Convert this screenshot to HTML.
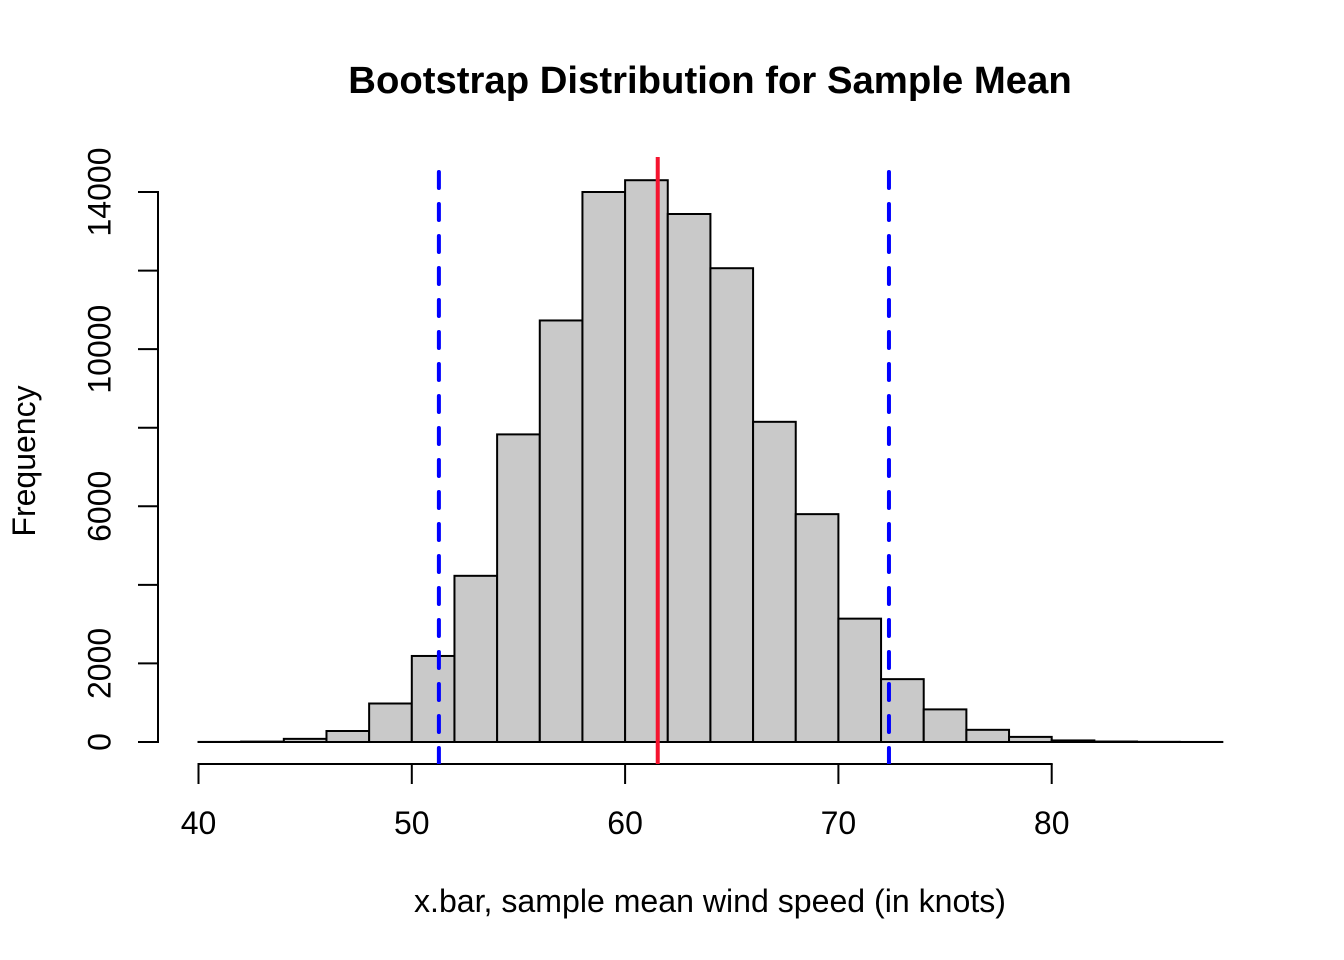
<!DOCTYPE html>
<html lang="en">
<head>
<meta charset="utf-8">
<title>Bootstrap Distribution for Sample Mean</title>
<style>
html,body{margin:0;padding:0;background:#fff;}
svg{display:block;}
text{font-family:"Liberation Sans",Arial,sans-serif;fill:#000;}
</style>
</head>
<body>
<svg id="chart" xmlns="http://www.w3.org/2000/svg" width="1344" height="960" viewBox="0 0 1344 960">
  <rect x="0" y="0" width="1344" height="960" fill="#fff"/>
  <text x="710" y="93" font-size="38.3" font-weight="bold" text-anchor="middle">Bootstrap Distribution for Sample Mean</text>
  <text x="710" y="912" font-size="32.1" text-anchor="middle">x.bar, sample mean wind speed (in knots)</text>
  <text transform="translate(35 461) rotate(-90)" font-size="32" text-anchor="middle">Frequency</text>
  <g id="bars"></g>
  <g id="x-axis"></g>
  <g id="y-axis"></g>
  <g id="ref-lines"></g>
</svg>
<script>
const binEdges = [40,42,44,46,48,50,52,54,56,58,60,62,64,66,68,70,72,74,76,78,80,82,84,86,88];
const binCounts = [2,10,80,280,980,2190,4230,7830,10730,14000,14300,13440,12060,8150,5800,3140,1600,830,310,130,40,12,4,1];
const xTicks = [40,50,60,70,80];
const yTicks = [0,2000,4000,6000,8000,10000,12000,14000];
const yTickLabels = ["0","2000","","6000","","10000","","14000"];
const ciBounds = [51.27,72.37];
const meanValue = 61.53;

const NS = 'http://www.w3.org/2000/svg';
const sx = v => 198.5 + (v - 40) * 21.33;
const sy = v => 742 - v * (550 / 14000);
const AXIS_X_Y = 764, AXIS_Y_X = 158;

function mk(tag, attrs, parent) {
  const el = document.createElementNS(NS, tag);
  for (const k in attrs) el.setAttribute(k, attrs[k]);
  parent.appendChild(el);
  return el;
}

const barsG = document.getElementById('bars');
binCounts.forEach((c, i) => {
  const x0 = sx(binEdges[i]), x1 = sx(binEdges[i + 1]), y = sy(c);
  const r = mk('rect', {x: x0, y: y, width: x1 - x0, height: sy(0) - y, fill: '#c9c9c9', stroke: '#000', 'stroke-width': 2}, barsG);
  
  
});

const xG = document.getElementById('x-axis');
const xLine = mk('line', {x1: sx(xTicks[0]), x2: sx(xTicks[xTicks.length - 1]), y1: AXIS_X_Y, y2: AXIS_X_Y, stroke: '#000', 'stroke-width': 2, 'stroke-linecap': 'square'}, xG);


xTicks.forEach(t => {
  const l = mk('line', {x1: sx(t), x2: sx(t), y1: AXIS_X_Y, y2: AXIS_X_Y + 20, stroke: '#000', 'stroke-width': 2}, xG);
  
  
  const txt = mk('text', {x: sx(t), y: 834, 'font-size': 32, 'text-anchor': 'middle'}, xG);
  txt.textContent = String(t);
  
  
});

const yG = document.getElementById('y-axis');
const yLine = mk('line', {x1: AXIS_Y_X, x2: AXIS_Y_X, y1: sy(yTicks[0]), y2: sy(yTicks[yTicks.length - 1]), stroke: '#000', 'stroke-width': 2, 'stroke-linecap': 'square'}, yG);


yTicks.forEach((t, i) => {
  const l = mk('line', {x1: AXIS_Y_X - 20, x2: AXIS_Y_X, y1: sy(t), y2: sy(t), stroke: '#000', 'stroke-width': 2}, yG);
  
  
  if (yTickLabels[i]) {
    const txt = mk('text', {transform: 'translate(110.5 ' + sy(t) + ') rotate(-90)', 'font-size': 32, 'text-anchor': 'middle'}, yG);
    txt.textContent = yTickLabels[i];
    
    
  }
});

const refG = document.getElementById('ref-lines');
const defs = mk('defs', {}, refG);
const clip = mk('clipPath', {id: 'ref-clip'}, defs);
mk('rect', {x: 0, y: 150, width: 1344, height: 614}, clip);
ciBounds.forEach(v => {
  const l = mk('line', {x1: sx(v), x2: sx(v), y1: 764, y2: 172, stroke: '#0000ff', 'stroke-width': 4, 'stroke-dasharray': '16 16', 'stroke-linecap': 'round', 'clip-path': 'url(#ref-clip)'}, refG);
  
  
});
const meanLine = mk('line', {x1: sx(meanValue), x2: sx(meanValue), y1: 764, y2: 157, stroke: '#f5142f', 'stroke-width': 4}, refG);


</script>
</body>
</html>
